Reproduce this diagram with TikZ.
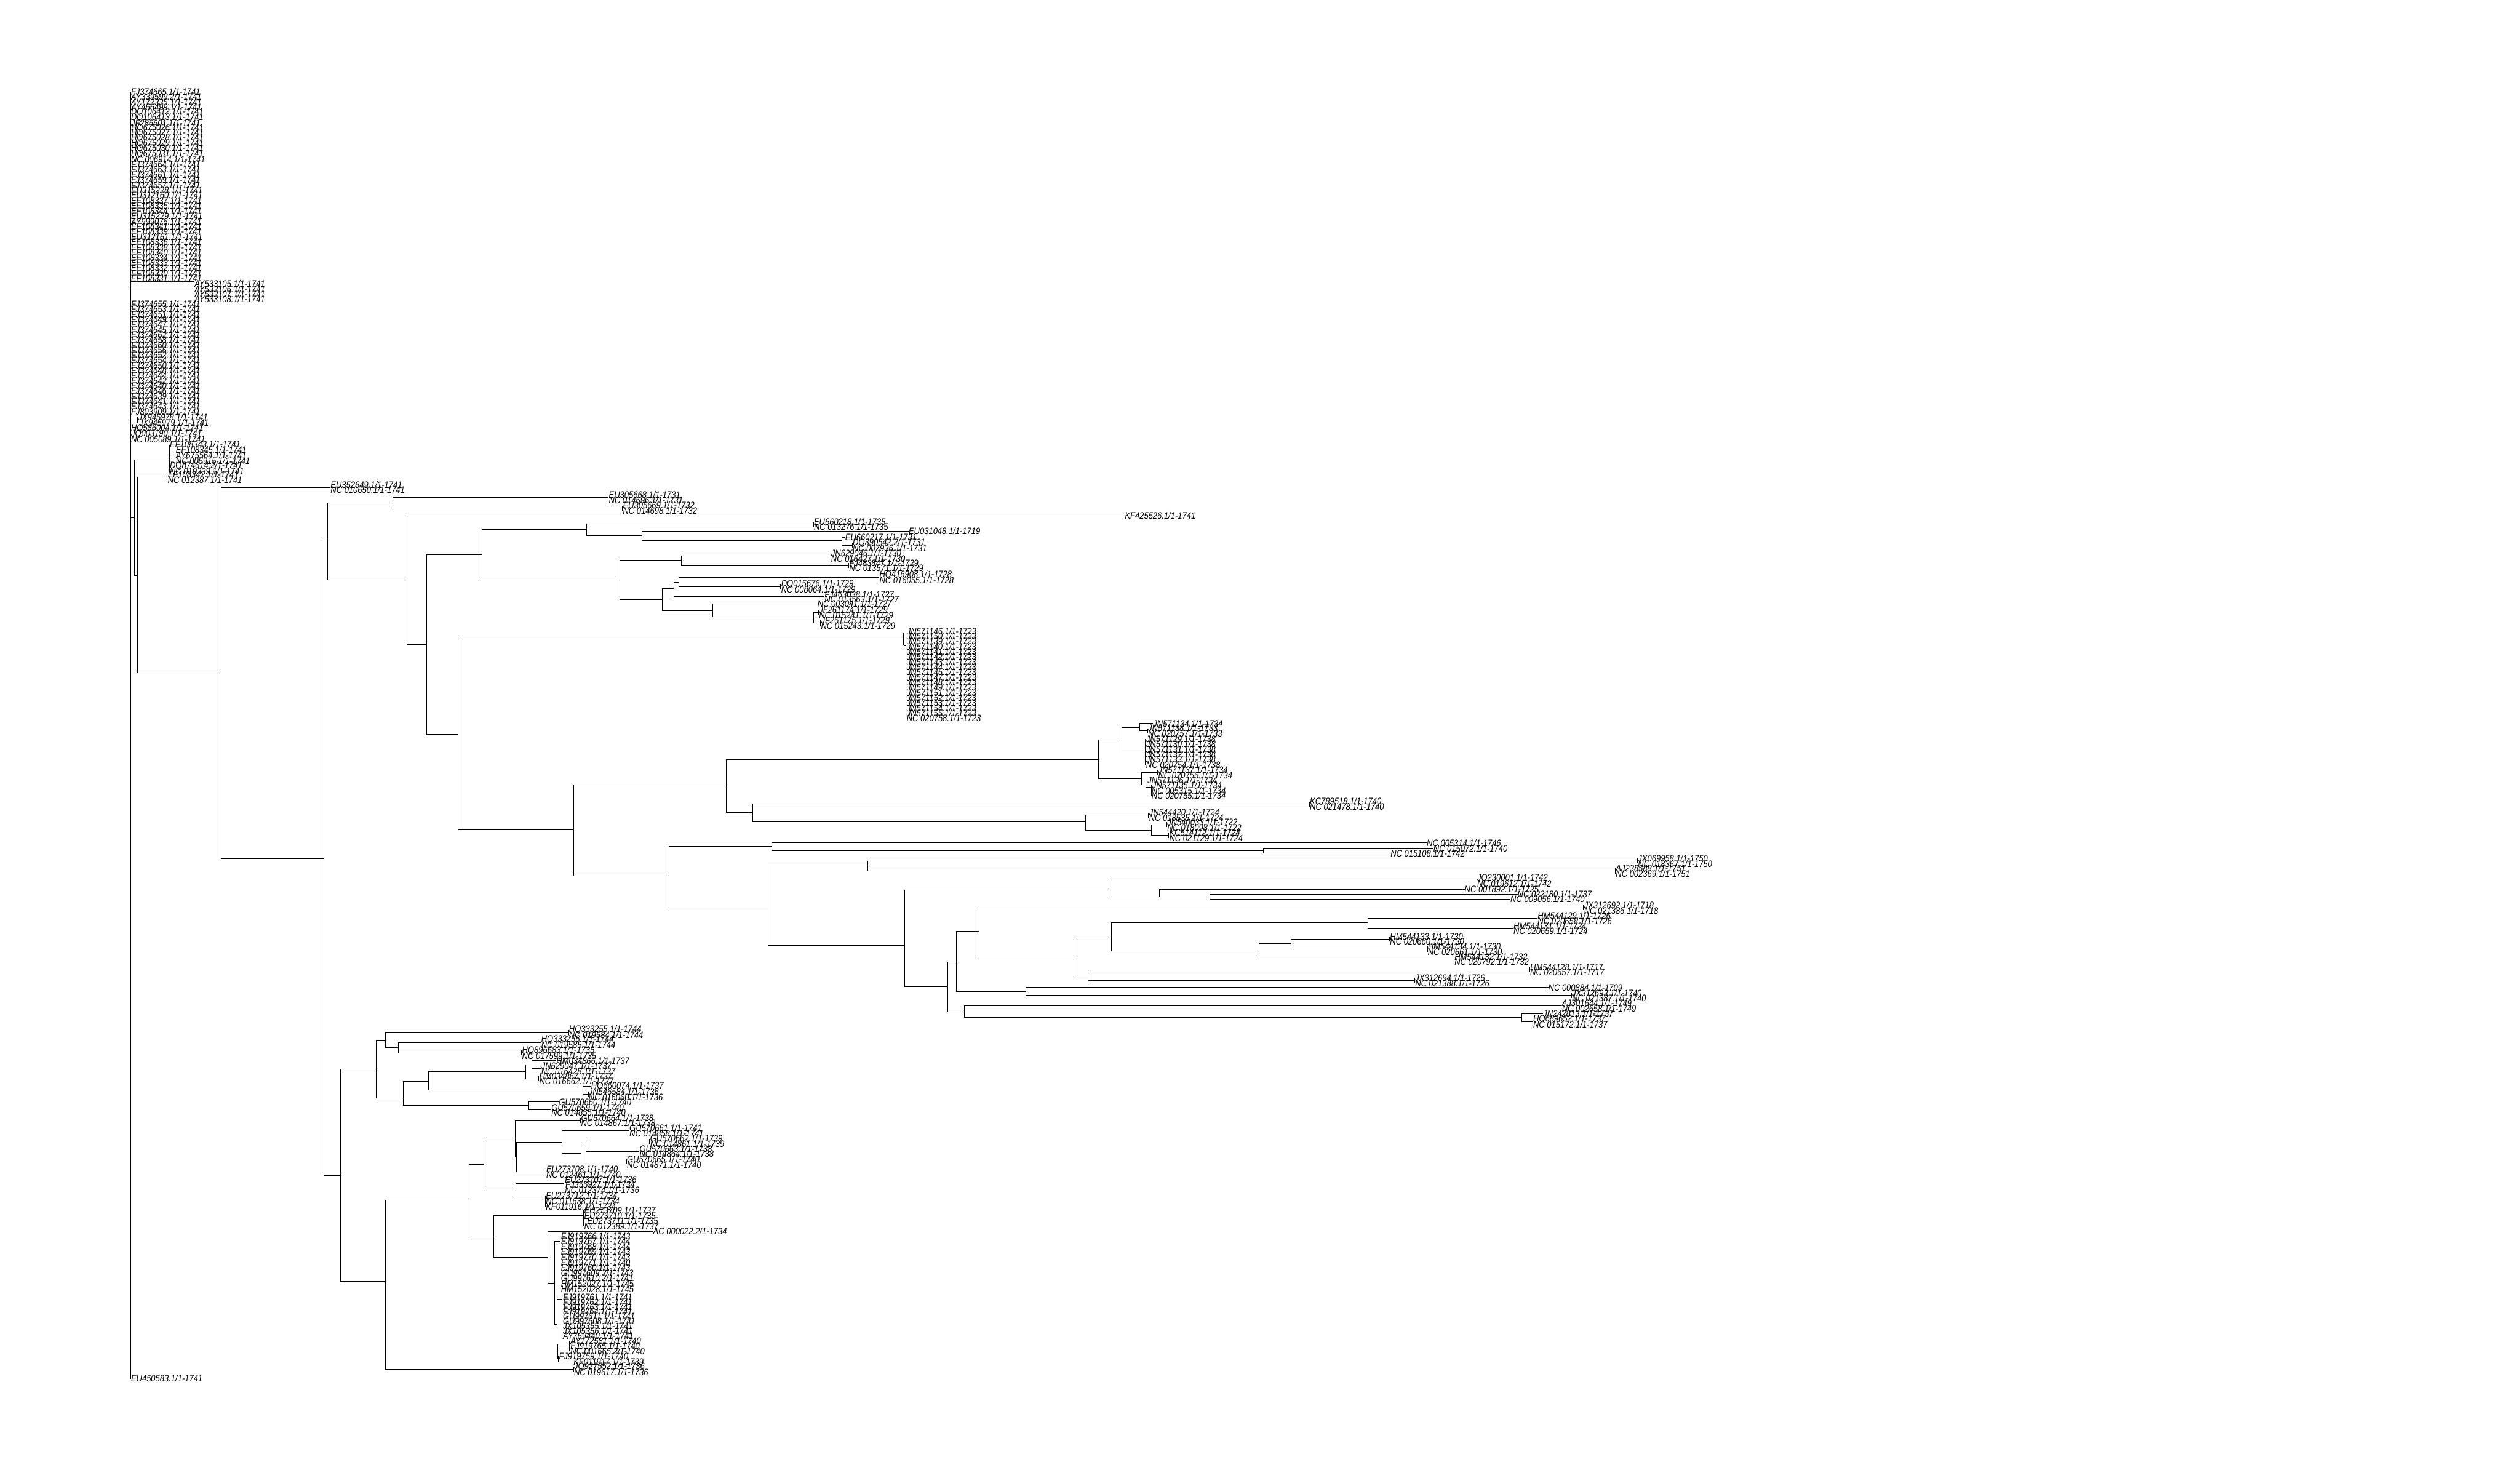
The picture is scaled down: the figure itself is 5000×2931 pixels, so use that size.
\documentclass[tikz,border=0pt]{standalone}
\usepackage{fontspec}
\newfontfamily\leaffont[FakeStretch=0.85]{Liberation Sans}
\usetikzlibrary{positioning}

\tikzset{
  branch/.style={line width=0.35pt, draw=black},
  leaf/.style={anchor=west, inner sep=0pt, outer sep=0pt, xshift=0.3pt,
    font=\leaffont\itshape\fontsize{5.3}{6}\selectfont},
}
% clade: name, parent, x, y
\newcommand{\clade}[4]{\coordinate (#1) at (#3,#4); \draw[branch] (#2) |- (#1);}
% single tip: name, parent, x, y, label
\newcommand{\tip}[5]{\node[leaf] (#1) at (#3,#4) {#5}; \draw[branch] (#2) |- (#1.west);}
% two identical tips: name, parent, x, y, upper label, lower label
\newcommand{\twin}[6]{%
  \coordinate (#1) at (#3,#4); \draw[branch] (#2) |- (#1);
  \draw[branch] (#3,#4-5) -- (#3,#4+5);
  \node[leaf] (#1a) at (#3,#4-5.3) {#5};
  \node[leaf] (#1b) at (#3,#4+5.3) {#6};}

\begin{document}
\begin{tikzpicture}[x=0.01cm, y=-0.01cm]
    \useasboundingbox (0,0) rectangle (5000,2931);

    % Radice
    \coordinate (root) at (259,1027);
    \draw[branch] (259,182) -- (259,2735);
    \node[leaf] (eu450583) at (259,2735) {EU450583.1/1-1741};

    % Gruppo superiore (rami nulli)
    \foreach \lab [count=\i from 0] in {FJ374665.1/1-1741, AY339599.2/1-1741, AY172335.1/1-1741, AY466499.1/1-1741,
      DQ106412.1/1-1741, DQ106413.1/1-1741, JF286601.1/1-1741, HQ675026.1/1-1741, HQ675027.1/1-1741,
      HQ675028.1/1-1741, HQ675029.1/1-1741, HQ675030.1/1-1741, HQ675031.1/1-1741, NC 006914.1/1-1741,
      FJ374664.1/1-1741, FJ374663.1/1-1741, FJ374661.1/1-1741, FJ374659.1/1-1741, FJ374657.1/1-1741,
      EU315228.1/1-1741, EU312160.1/1-1741, EF108337.1/1-1741, EF108335.1/1-1741, EF108344.1/1-1741,
      EU315229.1/1-1741, AY999076.1/1-1741, EF108341.1/1-1741, EF108339.1/1-1741, EU312161.1/1-1741,
      EF108336.1/1-1741, EF108338.1/1-1741, EF108340.1/1-1741, EF108334.1/1-1741, EF108333.1/1-1741,
      EF108332.1/1-1741, EF108330.1/1-1741, EF108331.1/1-1741}
      \node[leaf] (top\i) at (259,182+10.28*\i) {\lab};

    \draw[branch] (259,559) -- (385,559);
    \draw[branch] (259,570) -- (385,570);
    \foreach \lab [count=\i from 0] in {AY533105.1/1-1741, AY533106.1/1-1741, AY533107.1/1-1741, AY533108.1/1-1741}
      \node[leaf] (ay\i) at (385,563+10.2*\i) {\lab};

    \foreach \lab [count=\i from 0] in {FJ374655.1/1-1741, FJ374653.1/1-1741, FJ374651.1/1-1741, FJ374649.1/1-1741,
      FJ374647.1/1-1741, FJ374645.1/1-1741, FJ374662.1/1-1741, FJ374658.1/1-1741, FJ374660.1/1-1741,
      FJ374656.1/1-1741, FJ374652.1/1-1741, FJ374654.1/1-1741, FJ374650.1/1-1741, FJ374648.1/1-1741,
      FJ374644.1/1-1741, FJ374642.1/1-1741, FJ374640.1/1-1741, FJ374646.1/1-1741, FJ374639.1/1-1741,
      FJ374641.1/1-1741, FJ374643.1/1-1741, FJ803909.1/1-1741}
      \node[leaf] (fj\i) at (259,603+10.16*\i) {\lab};

    \coordinate (jx) at (273,833);
    \draw[branch] (root) |- (jx);
    \draw[branch] (273,828) -- (273,839);
    \node[leaf] (jx1) at (273,828) {JX945978.1/1-1741};
    \node[leaf] (jx2) at (275,839) {JX945979.1/1-1741};
    \node[leaf] (hq586004) at (259,850) {HQ586004.1/1-1741};
    \node[leaf] (jq003190) at (259,861) {JQ003190.1/1-1741};
    \node[leaf] (nc005089) at (259,872) {NC 005089.1/1-1741};

    % Primi rami interni
    \clade{a267}{root}{267}{1027}
    \clade{b336}{a267}{336}{913}
    \draw[branch] (336,882) -- (336,935);
    \draw[branch] (336,903) -- (347,903);
    \draw[branch] (347,892) -- (347,914);
    \node[leaf] (ef108343) at (336,882) {EF108343.1/1-1741};
    \node[leaf] (ef108345) at (348,892) {EF108345.1/1-1741};
    \node[leaf] (ay675564) at (348,903) {AY675564.1/1-1741};
    \node[leaf] (nc006915) at (348,914) {NC 006915.1/1-1741};
    \node[leaf] (dq874614) at (336,924) {DQ874614.2/1-1741};
    \node[leaf] (nc010339) at (336,935) {NC 010339.1/1-1741};

    \clade{a273}{a267}{273}{1142}
    \twin{ef108342}{a273}{332}{947}{EF108342.1/1-1741}{NC 012387.1/1-1741}
    \clade{a439}{a273}{439}{1335}
    \twin{eu352649}{a439}{655}{967}{EU352649.1/1-1741}{NC 010650.1/1-1741}
    \clade{a643}{a439}{643}{1703}

    % Sottoalbero centrale
    \clade{a650}{a643}{650}{1074}
    \clade{a779}{a650}{779}{998}
    \twin{eu305668}{a779}{1207}{987}{EU305668.1/1-1731}{NC 014696.1/1-1731}
    \twin{eu305669}{a779}{1235}{1008}{EU305669.1/1-1732}{NC 014698.1/1-1732}
    \clade{a808}{a650}{808}{1151}
    \tip{kf425526}{a808}{2231}{1023}{KF425526.1/1-1741}
    \clade{a846}{a808}{846}{1279}
    \clade{a956}{a846}{956}{1101}
    \clade{a1164}{a956}{1164}{1051}
    \twin{eu660218}{a1164}{1614}{1040}{EU660218.1/1-1735}{NC 013276.1/1-1735}
    \clade{a1274}{a1164}{1274}{1063}
    \tip{eu031048}{a1274}{1802}{1054}{EU031048.1/1-1719}
    \clade{a1671}{a1274}{1671}{1072}
    \tip{eu660217}{a1671}{1676}{1066}{EU660217.1/1-1731}
    \twin{dq390542}{a1671}{1691}{1082}{DQ390542.2/1-1731}{NC 007936.1/1-1731}
    \clade{a1230}{a956}{1230}{1150}
    \clade{a1352}{a1230}{1352}{1111}
    \twin{jn629046}{a1352}{1648}{1103}{JN629046.1/1-1730}{NC 016427.1/1-1730}
    \twin{fj483847}{a1352}{1684}{1122}{FJ483847.1/1-1729}{NC 013571.1/1-1729}
    \clade{a1314}{a1230}{1314}{1189}
    \clade{a1337}{a1314}{1337}{1167}
    \clade{a1347}{a1337}{1347}{1155}
    \twin{hq416908}{a1347}{1744}{1146}{HQ416908.1/1-1728}{NC 016055.1/1-1728}
    \twin{dq015676}{a1347}{1549}{1164}{DQ015676.1/1-1729}{NC 008064.1/1-1729}
    \twin{fj463038}{a1337}{1635}{1184}{FJ463038.1/1-1727}{NC 013563.1/1-1727}
    \clade{a1414}{a1314}{1414}{1211}
    \tip{nc003041}{a1414}{1621}{1198}{NC 003041.1/1-1727}
    \clade{a1614}{a1414}{1614}{1224}
    \twin{jf261174}{a1614}{1624}{1215}{JF261174.1/1-1729}{NC 015241.1/1-1729}
    \twin{jf261175}{a1614}{1628}{1236}{JF261175.1/1-1729}{NC 015243.1/1-1729}

    \clade{a909}{a846}{909}{1457}
    \clade{a1793}{a909}{1793}{1268}
    \draw[branch] (1793,1255) -- (1793,1281);
    \draw[branch] (1793,1255) -- (1800,1255);
    \draw[branch] (1793,1281) -- (1797,1281);
    \draw[branch] (1797,1262) -- (1797,1425);
    \foreach \lab [count=\i from 0] in {JN571146.1/1-1723, JN571150.1/1-1723, JN571139.1/1-1723, JN571140.1/1-1723,
      JN571141.1/1-1723, JN571142.1/1-1723, JN571143.1/1-1723, JN571144.1/1-1723, JN571145.1/1-1723,
      JN571147.1/1-1723, JN571148.1/1-1723, JN571149.1/1-1723, JN571151.1/1-1723, JN571152.1/1-1723,
      JN571153.1/1-1723, JN571154.1/1-1723, JN571155.1/1-1723, NC 020758.1/1-1723}
      \node[leaf] (jn\i) at (1798,1252+10.18*\i) {\lab};

    \clade{a1138}{a909}{1138}{1646}
    \clade{a1441}{a1138}{1441}{1557}
    \clade{a2179}{a1441}{2179}{1507}
    \clade{a2226}{a2179}{2226}{1468}
    \clade{a2261}{a2226}{2261}{1443}
    \tip{jn571134}{a2261}{2287}{1435}{JN571134.1/1-1734}
    \twin{jn571138}{a2261}{2277}{1450}{JN571138.1/1-1733}{NC 020757.1/1-1733}
    \clade{a2267}{a2226}{2272}{1493}
    \draw[branch] (2272,1466) -- (2272,1517);
    \foreach \lab [count=\i from 0] in {JN571129.1/1-1738, JN571130.1/1-1738, JN571131.1/1-1738,
      JN571132.1/1-1738, JN571133.1/1-1738, NC 020754.1/1-1738}
      \node[leaf] (jnb\i) at (2273,1466+10.2*\i) {\lab};
    \clade{a2265}{a2179}{2265}{1545}
    \twin{jn571137}{a2265}{2297}{1533}{JN571137.1/1-1734}{NC 020756.1/1-1734}
    \clade{a2273}{a2265}{2273}{1557}
    \draw[branch] (2273,1548) -- (2273,1562);
    \draw[branch] (2273,1562) -- (2284,1562);
    \draw[branch] (2284,1558) -- (2284,1579);
    \node[leaf] (jn571136) at (2276,1548) {JN571136.1/1-1734};
    \node[leaf] (jn571135) at (2285,1558) {JN571135.1/1-1734};
    \node[leaf] (nc005315) at (2284,1569) {NC 005315.1/1-1734};
    \node[leaf] (nc020755) at (2284,1579) {NC 020755.1/1-1734};
    \clade{a1493}{a1441}{1493}{1612}
    \twin{kc789518}{a1493}{2598}{1595}{KC789518.1/1-1740}{NC 021478.1/1-1740}
    \clade{a2154}{a1493}{2154}{1630}
    \twin{jn544420}{a2154}{2279}{1617}{JN544420.1/1-1724}{NC 018535.1/1-1724}
    \clade{a2285}{a2154}{2285}{1647}
    \twin{jn540033}{a2285}{2315}{1636}{JN540033.1/1-1722}{NC 018098.1/1-1722}
    \twin{kc514112}{a2285}{2319}{1657}{KC514112.1/1-1724}{NC 021129.1/1-1724}

    \clade{a1327}{a1138}{1327}{1738}
    \clade{s1531}{a1327}{1531}{1679}
    \tip{nc005314}{s1531}{2830}{1672}{NC 005314.1/1-1746}
    \clade{a2507}{s1531}{2507}{1687}
    \tip{nc015072}{a2507}{2843}{1683}{NC 015072.1/1-1740}
    \tip{nc015108}{a2507}{2758}{1693}{NC 015108.1/1-1742}
    \clade{t1524}{a1327}{1524}{1797}
    \clade{u1722}{t1524}{1722}{1718}
    \twin{jx069958}{u1722}{3249}{1708}{JX069958.1/1-1750}{NC 018367.1/1-1750}
    \twin{aj238588}{u1722}{3205}{1728}{AJ238588.1/1-1751}{NC 002369.1/1-1751}
    \clade{w1795}{t1524}{1795}{1876}
    \clade{x2200}{w1795}{2200}{1766}
    \twin{jq230001}{x2200}{2930}{1748}{JQ230001.1/1-1742}{NC 019612.1/1-1742}
    \clade{x2300}{x2200}{2300}{1779}
    \tip{nc001892}{x2300}{2905}{1764}{NC 001892.1/1-1725}
    \clade{x2400}{x2300}{2400}{1779}
    \tip{nc022180}{x2400}{3010}{1774}{NC 022180.1/1-1737}
    \tip{nc009056}{x2400}{2996}{1784}{NC 009056.1/1-1740}
    \clade{y1880}{w1795}{1880}{1957}
    \clade{a1897}{y1880}{1897}{1908}
    \clade{a1943}{a1897}{1943}{1848}
    \twin{jx312692}{a1943}{3142}{1801}{JX312692.1/1-1718}{NC 021386.1/1-1718}
    \clade{a2131}{a1943}{2131}{1896}
    \clade{a2205}{a2131}{2205}{1859}
    \clade{a2714}{a2205}{2714}{1831}
    \twin{hm544129}{a2714}{3050}{1822}{HM544129.1/1-1726}{NC 020658.1/1-1726}
    \twin{hm544131}{a2714}{3002}{1842}{HM544131.1/1-1724}{NC 020659.1/1-1724}
    \clade{a2498}{a2205}{2498}{1887}
    \clade{a2562}{a2498}{2562}{1872}
    \twin{hm544133}{a2562}{2757}{1863}{HM544133.1/1-1730}{NC 020660.1/1-1730}
    \twin{hm544134}{a2562}{2832}{1883}{HM544134.1/1-1730}{NC 020661.1/1-1730}
    \twin{hm544132}{a2498}{2885}{1903}{HM544132.1/1-1732}{NC 020792.1/1-1732}
    \clade{a2159}{a2131}{2159}{1934}
    \twin{hm544128}{a2159}{3035}{1924}{HM544128.1/1-1717}{NC 020657.1/1-1717}
    \twin{jx312694}{a2159}{2807}{1945}{JX312694.1/1-1726}{NC 021388.1/1-1726}
    \clade{a2035}{a1897}{2035}{1967}
    \tip{nc000884}{a2035}{3071}{1959}{NC 000884.1/1-1709}
    \twin{jx312693}{a2035}{3118}{1975}{JX312693.1/1-1740}{NC 021387.1/1-1740}
    \clade{a1913}{y1880}{1913}{2007}
    \twin{aj301644}{a1913}{3098}{1995}{AJ301644.1/1-1749}{NC 002658.1/1-1749}
    \clade{a3019}{a1913}{3019}{2018}
    \tip{jn242813}{a3019}{3061}{2011}{JN242813.1/1-1737}
    \twin{hq689652}{a3019}{3041}{2027}{HQ689652.1/1-1737}{NC 015172.1/1-1737}

    % Sottoalbero inferiore
    \clade{a676}{a643}{676}{2332}
    \clade{b746}{a676}{746}{2121}
    \clade{c765}{b746}{765}{2063}
    \twin{hq333255}{c765}{1128}{2048}{HQ333255.1/1-1744}{NC 019584.1/1-1744}
    \clade{c790}{c765}{790}{2078}
    \twin{hq333256}{c790}{1073}{2068}{HQ333256.1/1-1744}{NC 019585.1/1-1744}
    \twin{hq896683}{c790}{1035}{2089}{HQ896683.1/1-1735}{NC 017599.1/1-1735}
    \clade{c800}{b746}{800}{2178}
    \clade{c850}{c800}{850}{2145}
    \clade{a1043}{c850}{1043}{2126}
    \clade{a1055}{a1043}{1055}{2112}
    \tip{hm034866}{a1055}{1103}{2104}{HM034866.1/1-1737}
    \twin{jn629047}{a1055}{1073}{2120}{JN629047.1/1-1737}{NC 016428.1/1-1737}
    \twin{hm034867}{a1043}{1069}{2140}{HM034867.1/1-1737}{NC 016662.1/1-1737}
    \clade{a1156}{c850}{1156}{2163}
    \tip{hq660074}{a1156}{1172}{2155}{HQ660074.1/1-1737}
    \twin{jn546584}{a1156}{1167}{2171}{JN546584.1/1-1736}{NC 016060.1/1-1736}
    \clade{a1049}{c800}{1049}{2193}
    \tip{gu570660}{a1049}{1108}{2186}{GU570660.1/1-1740}
    \twin{gu570659}{a1049}{1093}{2202}{GU570659.1/1-1740}{NC 014855.1/1-1740}

    \clade{b765}{a676}{765}{2542}
    \clade{c931}{b765}{931}{2381}
    \clade{c960}{c931}{960}{2310}
    \clade{a1022}{c960}{1022}{2258}
    \twin{gu570664}{a1022}{1152}{2223}{GU570664.1/1-1738}{NC 014867.1/1-1738}
    \clade{a1023}{a1022}{1025}{2295}
    \clade{a1115}{a1023}{1115}{2266}
    \twin{gu570661}{a1115}{1248}{2243}{GU570661.1/1-1741}{NC 014858.1/1-1741}
    \clade{a1153}{a1115}{1153}{2288}
    \clade{a1163}{a1153}{1163}{2273}
    \twin{gu570662}{a1163}{1289}{2264}{GU570662.1/1-1739}{NC 014861.1/1-1739}
    \twin{gu570663}{a1163}{1268}{2284}{GU570663.1/1-1738}{NC 014864.1/1-1738}
    \twin{gu570665}{a1153}{1243}{2305}{GU570665.1/1-1740}{NC 014871.1/1-1740}
    \twin{eu273708}{a1023}{1083}{2325}{EU273708.1/1-1740}{NC 012461.1/1-1740}
    \clade{a1024}{c960}{1024}{2363}
    \clade{eu273707}{a1024}{1119}{2348}
    \draw[branch] (1119,2340) -- (1119,2361);
    \node[leaf] (eu273707a) at (1120,2340) {EU273707.1/1-1736};
    \node[leaf] (fj355927) at (1121,2350) {FJ355927.1/1-1734};
    \node[leaf] (nc012374) at (1120,2361) {NC 012374.1/1-1736};
    \clade{eu273712}{a1024}{1082}{2378}
    \draw[branch] (1082,2372) -- (1082,2394);
    \node[leaf] (eu273712a) at (1082,2372) {EU273712.1/1-1734};
    \node[leaf] (nc011638) at (1082,2383) {NC 011638.1/1-1734};
    \node[leaf] (kf011916) at (1082,2394) {KF011916.1/1-1734};
    \clade{c980}{c931}{980}{2452}
    \clade{eu273709}{c980}{1158}{2411}
    \draw[branch] (1158,2401) -- (1158,2433);
    \draw[branch] (1158,2422) -- (1164,2422);
    \node[leaf] (eu273709a) at (1158,2401) {EU273709.1/1-1737};
    \node[leaf] (eu273710) at (1158,2412) {EU273710.1/1-1735};
    \node[leaf] (eu273711) at (1164,2422) {EU273711.1/1-1735};
    \node[leaf] (nc012389) at (1158,2433) {NC 012389.1/1-1737};
    \clade{a1087}{c980}{1087}{2494}
    \tip{ac000022}{a1087}{1295}{2443}{AC 000022.2/1-1734}
    \clade{a1101}{a1087}{1101}{2546}
    \clade{a1111}{a1101}{1111}{2463}
    \draw[branch] (1111,2452) -- (1111,2557);
    \foreach \lab [count=\i from 0] in {FJ919766.1/1-1743, FJ919767.1/1-1744, FJ919768.1/1-1744, FJ919769.1/1-1743,
      FJ919770.1/1-1743, FJ919771.1/1-1740, FJ919760.1/1-1743, GU997609.2/1-1743, GU997610.2/1-1741,
      HM152027.1/1-1745, HM152028.1/1-1745}
      \node[leaf] (rn\i) at (1112,2452+10.5*\i) {\lab};
    \clade{a1105}{a1101}{1105}{2628}
    \clade{a1115b}{a1105}{1115}{2577}
    \draw[branch] (1115,2573) -- (1115,2650);
    \foreach \lab [count=\i from 0] in {FJ919761.1/1-1741, FJ919762.1/1-1741, FJ919763.1/1-1741, FJ919764.1/1-1741,
      GU997611.1/1-1741, GU997608.1/1-1741, JX105355.1/1-1741, JX105356.1/1-1741, AY769440.1/1-1741}
      \node[leaf] (rm\i) at (1116,2573+9.65*\i) {\lab};
    \clade{a1106}{a1105}{1106}{2680}
    \clade{a1130}{a1106}{1130}{2666}
    \draw[branch] (1130,2660) -- (1130,2681);
    \node[leaf] (ay172581) at (1131,2660) {AY172581.1/1-1740};
    \node[leaf] (fj919765) at (1131,2670) {FJ919765.1/1-1740};
    \node[leaf] (nc001665) at (1131,2681) {NC 001665.2/1-1740};
    \clade{a1108}{a1106}{1108}{2695}
    \tip{fj919759}{a1108}{1108}{2690}{FJ919759.1/1-1740}
    \tip{kf011917}{a1108}{1137}{2702}{KF011917.1/1-1739}
    \twin{jq927552}{b765}{1138}{2717}{JQ927552.1/1-1736}{NC 019617.1/1-1736}
\end{tikzpicture}
\end{document}
